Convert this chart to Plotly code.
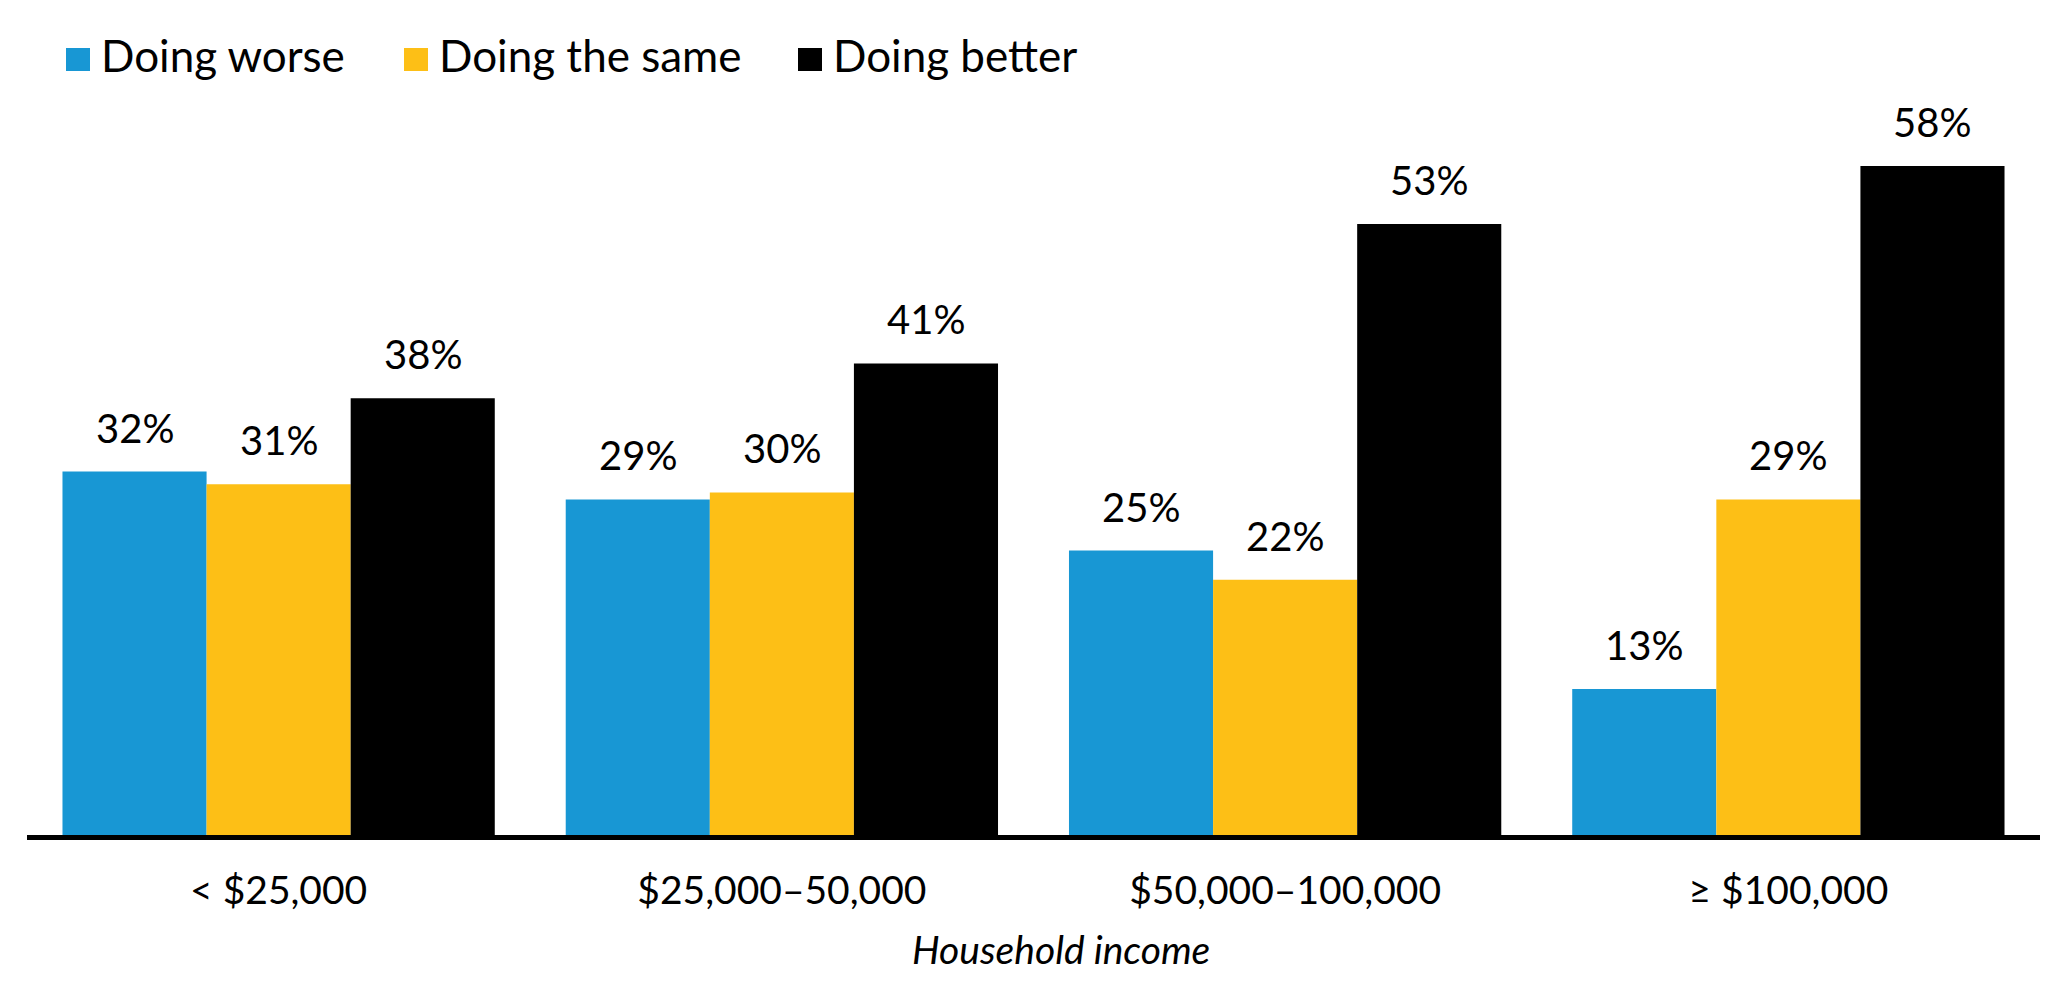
import plotly.graph_objects as go

# income groups and shares (%)
categories = ["< $25,000", "$25,000–50,000", "$50,000–100,000", "≥ $100,000"]
series_names = ["Doing worse", "Doing the same", "Doing better"]
worse = [31.7, 29.3, 24.9, 13.0]
same = [30.6, 29.9, 22.4, 29.3]
better = [38.0, 41.0, 53.0, 58.0]
colors = ["#1897d4", "#fdbf16", "#000000"]

FONT = "Lato"
# page body has an 8px margin, so the figure is a bit smaller than the window
W, H = 2059, 982
ML, MR, MT, MB = 19, 27, 112, 150
BARGAP = 0.141

fig = go.Figure()
for name, vals, col in zip(series_names, [worse, same, better], colors):
    fig.add_trace(go.Bar(x=categories, y=vals, name=name, marker_color=col,
                         marker_line_width=0, showlegend=False))

# value labels above bars
nser = 3
bw = (1 - BARGAP) / nser
annos = []
for j, vals in enumerate([worse, same, better]):
    for i, v in enumerate(vals):
        annos.append(dict(x=i + (j - (nser - 1) / 2) * bw, y=v, xref="x", yref="y",
                          text=f"{round(v)}%", showarrow=False, yanchor="middle",
                          yshift=44, font=dict(family=FONT, size=40, color="black")))

# helpers: page pixel -> paper coords (plot area spans x 27..2040, y 120..840 on the page)
PL, PB = 8 + ML, 8 + MT + (H - MT - MB)
pw, ph = W - ML - MR, H - MT - MB
def px_x(p):
    return (p - PL) / pw
def px_y(p):
    return (PB - p) / ph

# legend drawn by hand so the swatches can be large
legend_x = [66, 404, 798]
shapes = []
for name, col, lx in zip(series_names, colors, legend_x):
    shapes.append(dict(type="rect", xref="paper", yref="paper",
                       x0=px_x(lx), x1=px_x(lx + 24), y0=px_y(71), y1=px_y(48),
                       fillcolor=col, line_width=0))
    annos.append(dict(x=px_x(lx + 33), y=px_y(55.5), xref="paper", yref="paper",
                      text=name, showarrow=False, xanchor="left", yanchor="middle",
                      font=dict(family=FONT, size=44, color="black")))

# axis title
annos.append(dict(x=px_x(1061), y=px_y(974), xref="paper", yref="paper",
                  text="<i>Household income</i>", showarrow=False,
                  font=dict(family=FONT, size=39, color="black")))

# baseline
shapes.append(dict(type="rect", xref="paper", yref="y", ysizemode="pixel", yanchor=0,
                   x0=0, x1=1, y0=0, y1=5, fillcolor="black", line_width=0, layer="above"))

fig.update_layout(
    width=W, height=H,
    margin=dict(l=ML, r=MR, t=MT, b=MB),
    barmode="group", bargap=BARGAP, bargroupgap=0,
    plot_bgcolor="white", paper_bgcolor="white",
    font=dict(family=FONT, color="black"),
    annotations=annos, shapes=shapes,
    xaxis=dict(showline=False, showgrid=False, ticks="", ticklabelstandoff=24,
               tickfont=dict(family=FONT, size=39, color="black")),
    yaxis=dict(range=[0, 61.95], visible=False, showgrid=False, zeroline=False),
)

fig.write_html("out.html")
